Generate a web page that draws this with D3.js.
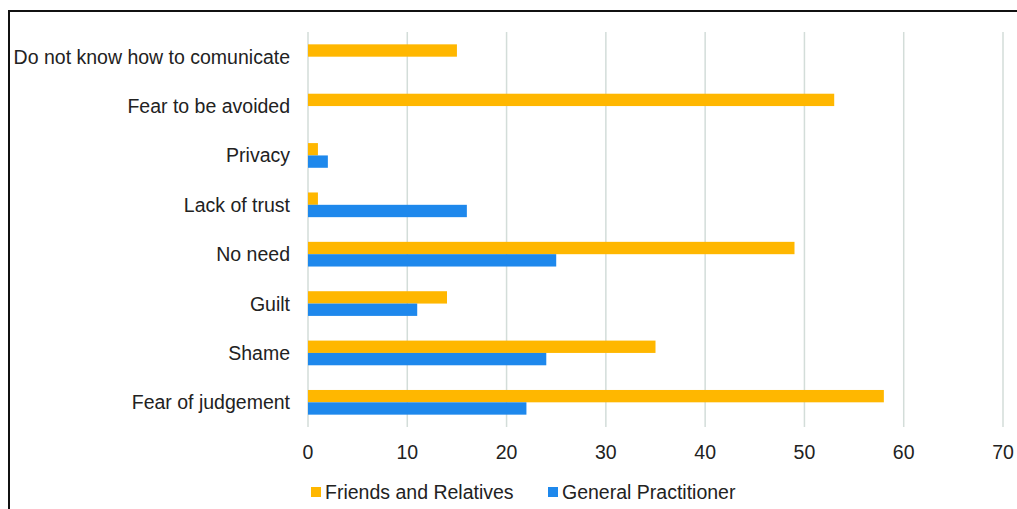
<!DOCTYPE html>
<html>
<head>
<meta charset="utf-8">
<script src="https://cdn.jsdelivr.net/npm/d3@7.9.0/dist/d3.min.js"></script>
<style>
  body { margin: 0; background: #fff; }
  svg { display: block; font-family: "Liberation Sans", Arial, sans-serif; }
</style>
</head>
<body>
<svg id="chart" width="1017" height="509"></svg>
<script>
const categories = ['Do not know how to comunicate', 'Fear to be avoided', 'Privacy', 'Lack of trust',
  'No need', 'Guilt', 'Shame', 'Fear of judgement'];
const friends = [15, 53, 1, 1, 49, 14, 35, 58];
const practitioner = [0, 0, 2, 16, 25, 11, 24, 22];
const seriesNames = ['Friends and Relatives', 'General Practitioner'];
const xTicks = [0, 10, 20, 30, 40, 50, 60, 70];

const colors = ['#FFB700', '#1E88EC'];
const fontSize = 19.5;
const svg = d3.select('#chart');

// frame
svg.append('rect')
  .attr('x', 9).attr('y', 11).attr('width', 1030).attr('height', 520)
  .attr('fill', 'none').attr('stroke', '#111').attr('stroke-width', 2);

const x = d3.scaleLinear().domain([0, 70]).range([308, 1003]);
const y = d3.scaleBand().domain(categories).range([32, 427]).paddingInner(0.5).paddingOuter(0.25);
const sub = d3.scaleBand().domain([0, 1]).range([0, y.bandwidth()]);

// gridlines
svg.append('g').selectAll('line').data(xTicks).join('line')
  .attr('x1', d => x(d)).attr('x2', d => x(d))
  .attr('y1', 32).attr('y2', 427)
  .attr('stroke', '#d3ddd9').attr('stroke-width', 1.5);

// tick labels
svg.append('g').selectAll('text').data(xTicks).join('text')
  .attr('x', d => x(d)).attr('y', 459)
  .attr('text-anchor', 'middle').attr('font-size', fontSize).attr('fill', '#222')
  .text(d => d);

// category labels
svg.append('g').selectAll('text').data(categories).join('text')
  .attr('x', 290).attr('y', d => y(d) + y.bandwidth() / 2 + 7)
  .attr('text-anchor', 'end').attr('font-size', fontSize).attr('fill', '#222')
  .text(d => d);

// bars
const rows = categories.map((c, i) => ({ c, vals: [friends[i], practitioner[i]] }));
const groups = svg.append('g').selectAll('g').data(rows).join('g')
  .attr('transform', d => `translate(0,${y(d.c)})`);
groups.selectAll('rect').data(d => d.vals.map((v, k) => ({ v, k }))).join('rect')
  .attr('x', x(0))
  .attr('y', d => sub(d.k))
  .attr('width', d => x(d.v) - x(0))
  .attr('height', sub.bandwidth())
  .attr('fill', d => colors[d.k]);

// legend
const legendX = [311, 548];
const legend = svg.append('g').selectAll('g').data(seriesNames).join('g')
  .attr('transform', (d, i) => `translate(${legendX[i]},492)`);
legend.append('rect').attr('x', 0).attr('y', -5).attr('width', 10).attr('height', 10)
  .attr('fill', (d, i) => colors[i]);
legend.append('text').attr('x', 14).attr('y', 7).attr('font-size', fontSize).attr('fill', '#222')
  .text(d => d);
</script>
</body>
</html>
